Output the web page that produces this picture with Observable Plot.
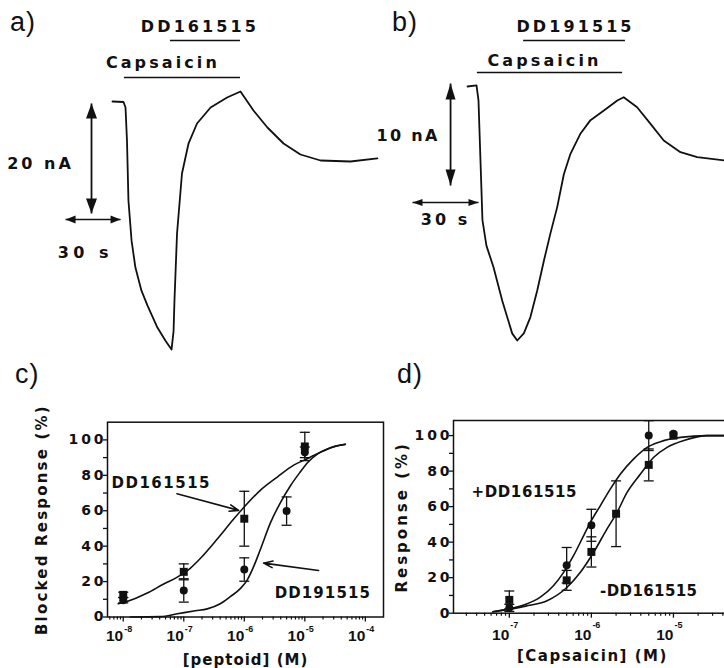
<!DOCTYPE html>
<html>
<head>
<meta charset="utf-8">
<script src="https://cdn.jsdelivr.net/npm/d3@7"></script>
<script src="https://cdn.jsdelivr.net/npm/@observablehq/plot@0.6"></script>
<style>
  html, body { margin: 0; padding: 0; background: #fff; }
  #fig { position: relative; width: 724px; height: 668px; overflow: hidden; background: #fff; }
  .panel { position: absolute; }
  .letter { position: absolute; font-family: "Liberation Sans", Arial, sans-serif; font-size: 27px; line-height: 27px; color: #111; letter-spacing: 1px; }
</style>
</head>
<body>
<div id="fig"></div>
<script>
// ===================== DATA =====================
// (a) current trace with DD161515: time (s, from trace start), current (nA)
const traceATime = [0,6,7.1,7.9,8.7,10.4,12.5,15.8,19.1,24.5,28.9,32.2,33.3,33.8,35.2,37.9,41.5,46.1,53.5,62.5,69.8,76.9,84.5,93.3,102.5,113.5,129.8,144.5];
const traceACurrent = [0,-0.09,-1.09,-7.09,-18,-25.3,-30.2,-34.4,-37.1,-41.1,-43.5,-45.1,-41.8,-36.2,-24,-13.1,-7.6,-4,-1.1,0.73,1.82,-1.64,-4.73,-7.64,-9.64,-10.73,-10.91,-10.36];
const appALabels = ["Capsaicin", "DD161515"];
const appAStart = [6.5, 31.6];
const appAEnd = [69.8, 69.8];

// (b) current trace with DD191515
const traceBTime = [0,4.1,5,5.9,6.8,8.6,11.8,15.8,20.3,22.6,25.6,28.6,31.7,34.7,37.7,40.8,43.8,46.8,51.4,55.9,62,68.1,71,77.1,83.2,89.2,96.8,104.4,116.8,124.1];
const traceBCurrent = [0,0.1,-1.37,-7.25,-13.1,-15.6,-17.7,-21,-24.2,-24.9,-24.2,-22.6,-20,-17.1,-14.4,-11.8,-8.6,-6.6,-4.6,-3.3,-2.35,-1.37,-1.05,-2.03,-3.66,-5.29,-6.44,-6.93,-7.25,-7.35];
const appBLabels = ["Capsaicin", "DD191515"];
const appBStart = [4.5, 25.5];
const appBEnd = [70.5, 71.8];

// scale bars
const scaleANa = 20, scaleBNa = 10, scaleSec = 30;

// (c) blocked response vs log10 [peptoid] (M)
const cTicks = [-8, -7, -6, -5, -4];
const cTickBase = ["10", "10", "10", "10", "10"];
const cTickExp = ["-8", "-7", "-6", "-5", "-4"];
const yTicks = [0, 20, 40, 60, 80, 100];
const yMinorTicks = [10, 30, 50, 70, 90];
const cSeries = ["DD161515", "DD191515"];
const c161Conc = [-8, -7, -6, -5];
const c161Resp = [12.5, 25.5, 55.5, 96.3];
const c161Err = [1.5, 4.5, 15.5, 8];
const c191Conc = [-8, -7, -6, -5.301, -5];
const c191Resp = [9.5, 15, 26.8, 59.8, 93];
const c191Err = [1.5, 6.6, 6.6, 8, 3];
const c161FitConc = [-8.083,-8,-7.802,-7.603,-7.339,-7.107,-6.893,-6.727,-6.446,-6.182,-6.017,-5.736,-5.455,-5.190,-4.959,-4.744,-4.529,-4.331];
const c161FitResp = [7.5,8.2,10.5,13.5,18.5,22.5,27.5,33,44,55,61.5,71.5,79,85.6,89.4,93,96,97.5];
const c191FitConc = [-7.884,-7.388,-7.107,-6.810,-6.612,-6.397,-6.231,-6.066,-5.950,-5.851,-5.736,-5.570,-5.405,-5.240,-5.073,-4.960,-4.793,-4.579,-4.331];
const c191FitResp = [0,0.2,1.8,3.5,4.6,7.5,11.5,16,21,28,38,53,64.5,74,82,87,92,95.6,97.5];

// (d) response vs log10 [capsaicin] (M)
const dTicks = [-7, -6, -5];
const dTickBase = ["10", "10", "10"];
const dTickExp = ["-7", "-6", "-5"];
const dSeries = ["+DD161515", "-DD161515"];
const dCtlConc = [-7, -6.301, -6, -5.301, -5];
const dCtlResp = [3, 27, 49.5, 100, 101];
const dCtlErr = [2, 10, 9, 8.4, 0];
const dAntConc = [-7, -6.301, -6, -5.699, -5.301, -5];
const dAntResp = [7.5, 18.5, 34.5, 56, 83.5, 100];
const dAntErr = [5, 5.6, 8.5, 18.5, 9, 0];
const dCtlFitConc = [-7.2,-7.0,-6.8,-6.622,-6.46,-6.338,-6.216,-6.094,-6.012,-5.89,-5.768,-5.646,-5.484,-5.321,-5.159,-4.915,-4.589,-4.3,-4.15];
const dCtlFitResp = [0.8,2.5,5,9,15.6,23,32.5,43.7,51.2,60.6,70,78.4,86.9,93.4,96.6,99,100,100,100];
const dAntFitConc = [-7.2,-7.0,-6.8,-6.54,-6.296,-6.134,-5.972,-5.809,-5.687,-5.565,-5.402,-5.24,-5.077,-4.874,-4.589,-4.3,-4.15];
const dAntFitResp = [0.8,2.3,4,7,14.6,23,34.3,47.5,56.8,68,78.4,87.8,93.4,97.2,100,100,100];

// ===================== HELPERS =====================
const INK = "#111";
const FONT = "'DejaVu Sans', Verdana, sans-serif";
const NARROW = "'Liberation Sans', Arial, sans-serif";
const baseStyle = `background: transparent; overflow: visible; max-width: none; font-family: ${FONT}; font-weight: bold; color: #111;`;
const pts = (xs, ys, es) => xs.map((x, i) => ({x, y: ys[i], e: es ? es[i] : 0}));

function head(dir, len, half) {
  return {draw(ctx) {
    ctx.moveTo(0, 0);
    if (dir === "up") { ctx.lineTo(half, len); ctx.lineTo(-half, len); }
    else if (dir === "down") { ctx.lineTo(half, -len); ctx.lineTo(-half, -len); }
    else if (dir === "left") { ctx.lineTo(len, half); ctx.lineTo(len, -half); }
    else { ctx.lineTo(-len, half); ctx.lineTo(-len, -half); }
    ctx.closePath();
  }};
}
function capSym(half) {
  return {draw(ctx) { ctx.moveTo(-half, 0); ctx.lineTo(half, 0); }};
}
function dblArrow(p, vertical, len, half, sw) {
  const d = [p];
  return [
    Plot.link(d, {x1: "x1", y1: "y1", x2: "x2", y2: "y2", stroke: INK, strokeWidth: sw}),
    Plot.dot(d, {x: "x1", y: "y1", symbol: head(vertical ? "up" : "left", len, half), fill: INK, stroke: "none", r: 5}),
    Plot.dot(d, {x: "x2", y: "y2", symbol: head(vertical ? "down" : "right", len, half), fill: INK, stroke: "none", r: 5})
  ];
}
function errorBars(data, half) {
  const d = data.filter(v => v.e > 0);
  const caps = d.flatMap(v => [{x: v.x, y: v.y - v.e}, {x: v.x, y: v.y + v.e}]);
  return [
    Plot.ruleX(d, {x: "x", y1: v => v.y - v.e, y2: v => v.y + v.e, stroke: INK, strokeWidth: 1.3}),
    Plot.dot(caps, {x: "x", y: "y", symbol: capSym(half), fill: "none", stroke: INK, strokeWidth: 1.3})
  ];
}
function spacing(svg, map) {
  svg.querySelectorAll("text").forEach(t => {
    const s = map[t.textContent];
    if (s != null) t.style.letterSpacing = s + "px";
  });
}
function minorLogTicks(lo, hi) {
  return d3.scaleLog().domain([1e-10, 1e-2]).ticks()
    .map(v => Math.log10(v))
    .filter(v => v > lo && v < hi && Math.abs(v - Math.round(v)) > 1e-6);
}
const fig = document.getElementById("fig");
function place(node, left, top) {
  const div = document.createElement("div");
  div.className = "panel";
  div.style.left = left + "px";
  div.style.top = top + "px";
  div.appendChild(node);
  fig.appendChild(div);
}
function letter(txt, left, top) {
  const div = document.createElement("div");
  div.className = "letter";
  div.style.left = left + "px";
  div.style.top = top + "px";
  div.textContent = txt;
  fig.appendChild(div);
}

// ===================== PANEL A =====================
{
  const trace = traceATime.map((t, k) => ({t, i: traceACurrent[k]}));
  const bars = appALabels.map((label, k) => ({label, x1: appAStart[k], x2: appAEnd[k]}));
  const barY = [4.36, 11.09];
  const labelPos = [{x: 27.5, y: 7.09}, {x: 47.7, y: 13.6}];
  const vBar = {x1: -11.45, x2: -11.45, y1: -0.36, y2: -0.36 - scaleANa};
  const hBar = {x1: -25.6, x2: -25.6 + scaleSec, y1: -21.45, y2: -21.45};
  const svg = Plot.plot({
    width: 380, height: 360, margin: 0,
    x: {domain: [-61.09, 146.18], axis: null},
    y: {domain: [-47.09, 18.36], axis: null},
    style: baseStyle,
    marks: [
      Plot.line(trace, {x: "t", y: "i", stroke: INK, strokeWidth: 1.8}),
      Plot.ruleY(bars, {y: (d, k) => barY[k], x1: "x1", x2: "x2", stroke: INK, strokeWidth: 1.6}),
      Plot.text(bars, {x: (d, k) => labelPos[k].x, y: (d, k) => labelPos[k].y, text: "label", fontSize: 16}),
      ...dblArrow(vBar, true, 15, 5.5, 1.8),
      ...dblArrow(hBar, false, 10, 4, 1.6),
      Plot.text([`${scaleANa} nA`], {x: () => -39.3, y: () => -11.27, fontSize: 16}),
      Plot.text([`${scaleSec} s`], {x: () => -14.8, y: () => -27.45, fontSize: 16})
    ]
  });
  spacing(svg, {"DD161515": 3.1, "Capsaicin": 3.1, "20 nA": 3, "30 s": 4.5});
  place(svg, 0, 0);
}

// ===================== PANEL B =====================
{
  const trace = traceBTime.map((t, k) => ({t, i: traceBCurrent[k]}));
  const bars = appBLabels.map((label, k) => ({label, x1: appBStart[k], x2: appBEnd[k]}));
  const barY = [1.37, 4.51];
  const labelPos = [{x: 35, y: 2.55}, {x: 49.1, y: 5.88}];
  const vBar = {x1: -7.7, x2: -7.7, y1: 0.29, y2: 0.29 - scaleBNa};
  const hBar = {x1: -25, x2: -25 + scaleSec, y1: -11.37, y2: -11.37};
  const svg = Plot.plot({
    width: 354, height: 360, margin: 0,
    x: {domain: [-44.09, 116.82], axis: null},
    y: {domain: [-26.86, 8.43], axis: null},
    style: baseStyle,
    marks: [
      Plot.line(trace, {x: "t", y: "i", stroke: INK, strokeWidth: 1.8}),
      Plot.ruleY(bars, {y: (d, k) => barY[k], x1: "x1", x2: "x2", stroke: INK, strokeWidth: 1.6}),
      Plot.text(bars, {x: (d, k) => labelPos[k].x, y: (d, k) => labelPos[k].y, text: "label", fontSize: 16}),
      ...dblArrow(vBar, true, 16, 5, 1.8),
      ...dblArrow(hBar, false, 10, 3.5, 1.6),
      Plot.text([`${scaleBNa} nA`], {x: () => -27, y: () => -4.8, fontSize: 16}),
      Plot.text([`${scaleSec} s`], {x: () => -10, y: () => -13.1, fontSize: 16})
    ]
  });
  spacing(svg, {"DD191515": 3.1, "Capsaicin": 3.1, "10 nA": 2.3, "30 s": 3});
  place(svg, 370, 0);
}

// common spacing for dose-response axes
const tickSpacing = {"0": 2.9, "20": 2.9, "40": 2.9, "60": 2.9, "80": 2.9, "100": 2.9};

// ===================== PANEL C =====================
{
  const dom = [-8.26, -3.70];
  const s161 = pts(c161Conc, c161Resp, c161Err);
  const s191 = pts(c191Conc, c191Resp, c191Err);
  const f161 = pts(c161FitConc, c161FitResp);
  const f191 = pts(c191FitConc, c191FitResp);
  const ticks = cTicks.map((x, k) => ({x, base: cTickBase[k], exp: cTickExp[k]}));
  const notes = [{x: -7.372, y: 75.7, t: cSeries[0]}, {x: -4.702, y: 13.3, t: cSeries[1]}];
  const pointers = [{x1: -7.112, y1: 69.6, x2: -6.094, y2: 60.2}, {x1: -4.772, y1: 26.3, x2: -5.681, y2: 30.4}];
  const svg = Plot.plot({
    width: 390, height: 328, marginLeft: 107, marginRight: 7, marginTop: 81.7, marginBottom: 51.5,
    x: {domain: dom},
    y: {domain: [0, 110]},
    style: baseStyle,
    marks: [
      Plot.axisY({ticks: yMinorTicks, tickSize: 4, tickFormat: () => "", label: null, strokeWidth: 1.3}),
      Plot.axisY({ticks: yTicks, tickSize: 4, tickPadding: -3, label: null, fontSize: 14, strokeWidth: 1.3}),
      Plot.axisX({ticks: minorLogTicks(dom[0], dom[1]), tickSize: 3, tickFormat: () => "", label: null, strokeWidth: 1.2}),
      Plot.axisX({ticks: cTicks, tickSize: 5, tickFormat: () => "", label: null, strokeWidth: 1.3}),
      Plot.text(ticks, {x: "x", text: "base", frameAnchor: "bottom", lineAnchor: "middle", textAnchor: "end", dy: 19, fontSize: 15.5, fontFamily: NARROW}),
      Plot.text(ticks, {x: "x", text: "exp", frameAnchor: "bottom", lineAnchor: "middle", textAnchor: "start", dx: 1, dy: 12, fontSize: 9, fontFamily: NARROW}),
      Plot.text(["Blocked Response (%)"], {frameAnchor: "left", lineAnchor: "middle", textAnchor: "middle", dx: -65, rotate: -90, fontSize: 15}),
      Plot.text([{x: -5.98, t: "[peptoid] (M)"}], {x: "x", text: "t", frameAnchor: "bottom", lineAnchor: "middle", textAnchor: "middle", dy: 43.5, fontSize: 15}),
      Plot.frame({stroke: INK, strokeWidth: 1.5}),
      Plot.line(f161, {x: "x", y: "y", curve: "monotone-x", stroke: INK, strokeWidth: 1.6}),
      Plot.line(f191, {x: "x", y: "y", curve: "monotone-x", stroke: INK, strokeWidth: 1.6}),
      ...errorBars(s161, 5),
      ...errorBars(s191, 5),
      Plot.dot(s191, {x: "x", y: "y", symbol: "circle", r: 4, fill: INK, stroke: "none"}),
      Plot.dot(s161, {x: "x", y: "y", symbol: "square", r: 4.5, fill: INK, stroke: "none"}),
      Plot.text(notes, {x: "x", y: "y", text: "t", fontSize: 15}),
      Plot.arrow(pointers, {x1: "x1", y1: "y1", x2: "x2", y2: "y2", stroke: INK, strokeWidth: 1.6, headLength: 9, headAngle: 40})
    ]
  });
  spacing(svg, {...tickSpacing, "DD161515": 1.5, "DD191515": 1.1, "Blocked Response (%)": 2.2, "[peptoid] (M)": 1});
  place(svg, 0, 340);
}

// ===================== PANEL D =====================
{
  const dom = [-7.68, -4.2];
  const sCtl = pts(dCtlConc, dCtlResp, dCtlErr);
  const sAnt = pts(dAntConc, dAntResp, dAntErr);
  const fCtl = pts(dCtlFitConc, dCtlFitResp);
  const fAnt = pts(dAntFitConc, dAntFitResp);
  const ticks = dTicks.map((x, k) => ({x, base: dTickBase[k], exp: dTickExp[k]}));
  const notes = [{x: -6.817, y: 68.1, t: dSeries[0]}, {x: -5.301, y: 12.3, t: dSeries[1]}];
  const svg = Plot.plot({
    width: 380, height: 328, marginLeft: 83, marginRight: 11.4, marginTop: 80, marginBottom: 55.3,
    x: {domain: dom},
    y: {domain: [0, 108.5]},
    style: baseStyle,
    marks: [
      Plot.axisY({ticks: yMinorTicks, tickSize: 4, tickFormat: () => "", label: null, strokeWidth: 1.3}),
      Plot.axisY({ticks: yTicks, tickSize: 4, tickPadding: -3, label: null, fontSize: 14, strokeWidth: 1.3}),
      Plot.axisX({ticks: minorLogTicks(dom[0], dom[1]), tickSize: 3, tickFormat: () => "", label: null, strokeWidth: 1.2}),
      Plot.axisX({ticks: dTicks, tickSize: 5, tickFormat: () => "", label: null, strokeWidth: 1.3}),
      Plot.text(ticks, {x: "x", text: "base", frameAnchor: "bottom", lineAnchor: "middle", textAnchor: "end", dy: 21.5, fontSize: 15.5, fontFamily: NARROW}),
      Plot.text(ticks, {x: "x", text: "exp", frameAnchor: "bottom", lineAnchor: "middle", textAnchor: "start", dx: 1, dy: 11.5, fontSize: 9, fontFamily: NARROW}),
      Plot.text(["Response (%)"], {frameAnchor: "left", lineAnchor: "middle", textAnchor: "middle", dx: -51, rotate: -90, fontSize: 15}),
      Plot.text([{x: -5.988, t: "[Capsaicin] (M)"}], {x: "x", text: "t", frameAnchor: "bottom", lineAnchor: "middle", textAnchor: "middle", dy: 43, fontSize: 15}),
      Plot.frame({stroke: INK, strokeWidth: 1.5}),
      Plot.line(fCtl, {x: "x", y: "y", curve: "monotone-x", stroke: INK, strokeWidth: 1.6}),
      Plot.line(fAnt, {x: "x", y: "y", curve: "monotone-x", stroke: INK, strokeWidth: 1.6}),
      ...errorBars(sCtl, 5),
      ...errorBars(sAnt, 5),
      Plot.dot(sAnt, {x: "x", y: "y", symbol: "square", r: 4.5, fill: INK, stroke: "none"}),
      Plot.dot(sCtl, {x: "x", y: "y", symbol: "circle", r: 4, fill: INK, stroke: "none"}),
      Plot.text(notes, {x: "x", y: "y", text: "t", fontSize: 15})
    ]
  });
  spacing(svg, {...tickSpacing, "+DD161515": 0.6, "-DD161515": 0.4, "Response (%)": 3, "[Capsaicin] (M)": 1.5});
  place(svg, 370, 340);
}

// panel letters
letter("a)", 10, 9.4);
letter("b)", 392, 9.4);
letter("c)", 15, 361.4);
letter("d)", 397, 361.4);
</script>
</body>
</html>
